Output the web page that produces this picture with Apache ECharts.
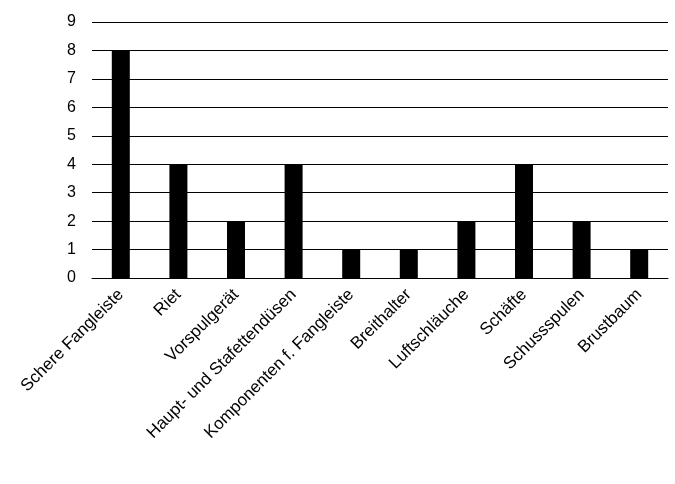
<!DOCTYPE html>
<html><head><meta charset="utf-8">
<script src="https://cdn.jsdelivr.net/npm/echarts@6/dist/echarts.min.js"></script>
<style>html,body{margin:0;background:#fff}#c{width:675px;height:484px}</style>
</head><body><div id="c"></div>
<script>
const categories = ['Schere Fangleiste', 'Riet', 'Vorspulgerät', 'Haupt- und Stafettendüsen', 'Komponenten f. Fangleiste', 'Breithalter', 'Luftschläuche', 'Schäfte', 'Schussspulen', 'Brustbaum'];
const values = [8, 4, 2, 4, 1, 1, 2, 4, 2, 1];

const chart = echarts.init(document.getElementById('c'));
chart.setOption({
  animation: false,
  grid: { left: 92, right: 7, top: 22, bottom: 206 },
  xAxis: {
    type: 'category',
    data: categories,
    axisLine: { lineStyle: { color: '#000' } },
    axisTick: { show: false },
    axisLabel: { rotate: 45, interval: 0, color: '#000', fontFamily: 'Liberation Sans', fontSize: 17, margin: 14 }
  },
  yAxis: {
    type: 'value', min: 0, max: 9, interval: 1,
    axisLine: { show: false },
    axisTick: { show: false },
    splitLine: { lineStyle: { color: '#000', width: 1 } },
    axisLabel: { color: '#000', fontFamily: 'Liberation Sans', fontSize: 16, margin: 16 }
  },
  series: [{ type: 'bar', data: values, barWidth: 18, itemStyle: { color: '#000' } }]
});
</script></body></html>
